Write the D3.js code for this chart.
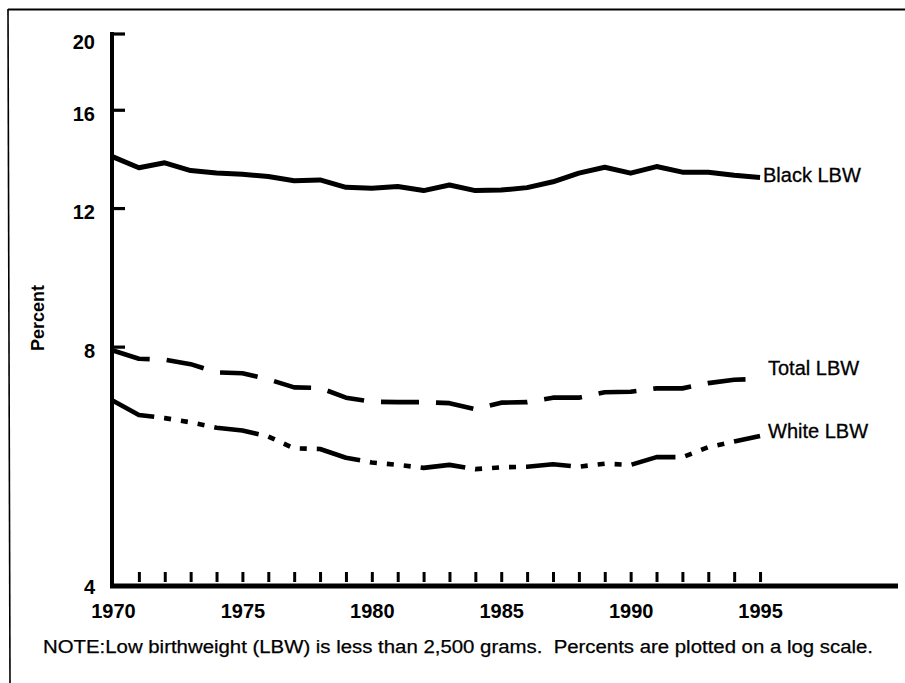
<!DOCTYPE html>
<html>
<head>
<meta charset="utf-8">
<script src="https://cdn.jsdelivr.net/npm/d3@7"></script>
<style>
  body { margin: 0; background: #fff; }
  svg { display: block; }
  text { font-family: "Liberation Sans", Arial, Helvetica, sans-serif; fill: #000; }
</style>
</head>
<body>
<svg id="chart" width="905" height="683"></svg>
<script>
// ---- data ----
const years = d3.range(1970, 1996);
const blackLBW = [13.94, 13.50, 13.70, 13.39, 13.30, 13.25, 13.16, 13.00, 13.03, 12.75, 12.72, 12.78, 12.63,
                  12.84, 12.63, 12.65, 12.74, 12.96, 13.29, 13.52, 13.29, 13.55, 13.33, 13.33, 13.21, 13.12];
const totalLBW = [7.91, 7.72, 7.70, 7.60, 7.42, 7.40, 7.27, 7.10, 7.09, 6.89, 6.81, 6.80, 6.80,
                  6.78, 6.66, 6.79, 6.80, 6.89, 6.89, 7.00, 7.01, 7.08, 7.08, 7.19, 7.26, 7.28];
const whiteLBW = [6.83, 6.55, 6.49, 6.41, 6.31, 6.26, 6.15, 5.94, 5.93, 5.78, 5.70, 5.66, 5.61,
                  5.66, 5.59, 5.62, 5.63, 5.67, 5.63, 5.68, 5.66, 5.79, 5.79, 5.96, 6.06, 6.16];
const seriesNames = ["Black LBW", "Total LBW", "White LBW"];
const yTicks = [4, 8, 12, 16, 20];
const xLabelYears = [1970, 1975, 1980, 1985, 1990, 1995];
const yTitle = "Percent";
const note = "NOTE:Low birthweight (LBW) is less than 2,500 grams.  Percents are plotted on a log scale.";

// ---- scales ----
const svg = d3.select("#chart");
const x = d3.scaleLinear().domain([1970, 2000.33]).range([113, 898]);
const y = d3.scaleLog().domain([4, 20]).range([583.5, 33.5]);

// frame (top and left)
svg.append("path").attr("d", "M8,9.5 L905,9.5").attr("stroke", "#000").attr("stroke-width", 2).attr("fill", "none");
svg.append("path").attr("d", "M8,9 L10,683").attr("stroke", "#000").attr("stroke-width", 1.6).attr("fill", "none");

// ---- y axis ----
const yAxis = d3.axisLeft(y).tickValues(yTicks).tickFormat(d3.format("d"))
  .tickSizeInner(-13).tickSizeOuter(0).tickPadding(17);
const gy = svg.append("g").attr("transform", "translate(112,0)").call(yAxis);
gy.select(".domain").remove();
gy.selectAll(".tick line").attr("stroke", "#000").attr("stroke-width", 3.2)
  .filter(d => d === 4).remove();
gy.selectAll(".tick text").attr("font-size", 20).attr("font-weight", "bold")
  .attr("dy", d => d === 20 ? "0.75em" : "0.52em")
  .style("font-family", "'Liberation Sans', Arial, sans-serif");
svg.append("line").attr("x1", 112).attr("x2", 112).attr("y1", y(20) - 1.5).attr("y2", 588)
  .attr("stroke", "#000").attr("stroke-width", 4);

// ---- x axis ----
const xAxis = d3.axisBottom(x).tickValues(xLabelYears).tickFormat(d3.format("d"))
  .tickSize(0).tickPadding(18);
const gx = svg.append("g").attr("transform", "translate(0,586)").call(xAxis);
gx.select(".domain").remove();
gx.selectAll(".tick text").attr("font-size", 20).attr("font-weight", "bold")
  .style("font-family", "'Liberation Sans', Arial, sans-serif");
svg.append("line").attr("x1", 110).attr("x2", x.range()[1]).attr("y1", 586).attr("y2", 586)
  .attr("stroke", "#000").attr("stroke-width", 5);

// minor year ticks
const xMinor = d3.axisBottom(x).tickValues(years.slice(1)).tickSize(-10).tickFormat("");
const gm = svg.append("g").attr("transform", "translate(0,582)").call(xMinor);
gm.select(".domain").remove();
gm.selectAll(".tick line").attr("stroke", "#000").attr("stroke-width", 3);

// ---- lines ----
const line = d3.line().x(d => x(d[0])).y(d => y(d[1]));
const series = [
  { name: seriesNames[0], values: blackLBW, dash: null, width: 5, lx: 763, ly: 181.5 },
  { name: seriesNames[1], values: totalLBW, dash: "38,17", width: 4.6, lx: 768, ly: 375 },
  { name: seriesNames[2], values: whiteLBW, dash: "45,10,7,10,7,10,7,10", width: 4.6, lx: 768, ly: 438 }
];
series.forEach(s => {
  svg.append("path")
    .datum(years.map((yr, i) => [yr, s.values[i]]))
    .attr("d", line)
    .attr("fill", "none")
    .attr("stroke", "#000")
    .attr("stroke-width", s.width)
    .attr("stroke-linejoin", "round")
    .attr("stroke-dasharray", s.dash);
  svg.append("text").attr("x", s.lx).attr("y", s.ly)
    .attr("font-size", 20).attr("stroke", "#000").attr("stroke-width", 0.3)
    .text(s.name);
});

// y title
svg.append("text")
  .attr("transform", "translate(44,318) rotate(-90)")
  .attr("text-anchor", "middle")
  .attr("font-size", 18).attr("font-weight", "bold")
  .text(yTitle);

// note
svg.append("text").attr("x", 43).attr("y", 653)
  .style("white-space", "pre")
  .attr("font-size", 18).attr("stroke", "#000").attr("stroke-width", 0.25)
  .attr("textLength", 830).attr("lengthAdjust", "spacingAndGlyphs")
  .text(note);
</script>
</body>
</html>
